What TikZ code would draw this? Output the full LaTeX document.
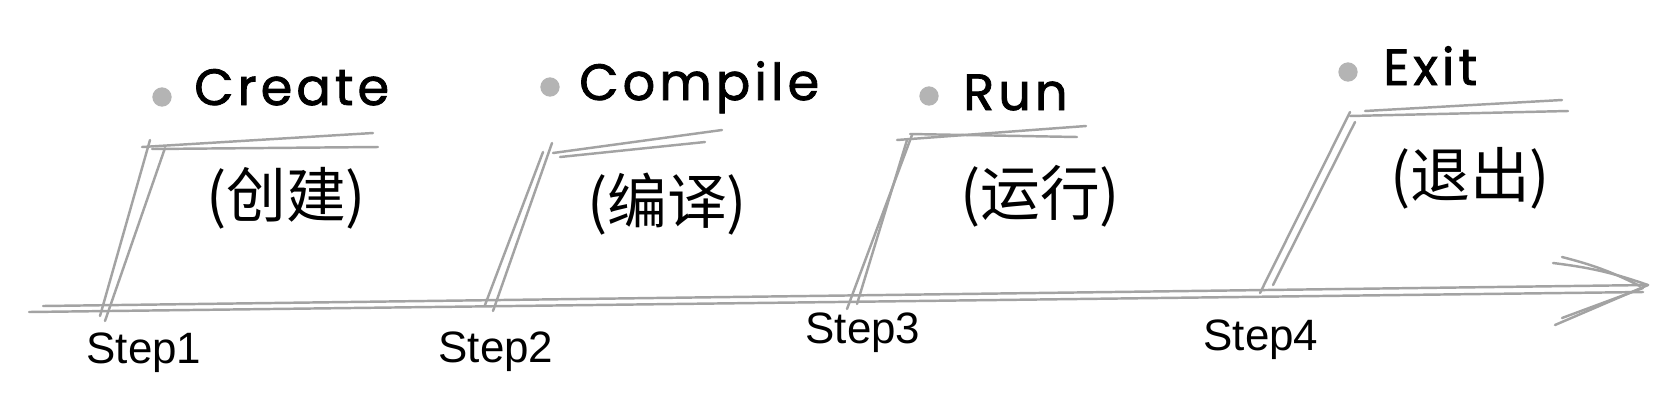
\documentclass[tikz,border=0pt]{standalone}
\usepackage{fontspec}
\setmainfont{Liberation Sans}
\newfontfamily\handfont{Poppins}[LetterSpace=8, FakeBold=1.6]
\newfontfamily\cjkfont{Noto Sans CJK SC}
\definecolor{pencil}{HTML}{A3A3A3}
\definecolor{dotgray}{HTML}{B4B4B4}

\begin{document}
\begin{tikzpicture}[x=0.02cm, y=-0.02cm, line width=1.4pt, line cap=round,
  stroke/.style={draw=pencil},
  title/.style={font=\handfont\fontsize{29}{34}\selectfont, anchor=base west, inner sep=0pt},
  zh/.style={font=\cjkfont\fontsize{34}{40}\selectfont, inner sep=0pt},
  steplabel/.style={font=\fontsize{25}{30}\selectfont, inner sep=0pt},
  bullet/.style={circle, fill=dotgray, minimum size=11pt, inner sep=0pt}]
  \useasboundingbox (0,0) rectangle (1680,410);

  % timeline with arrow
  \coordinate (t0) at (29,312);
  \coordinate (tip) at (1648,285);
  \draw[stroke] (t0) -- (1643,292);
  \draw[stroke] (43,306) -- (tip);
  \draw[stroke] (1553,263) to[bend left=6] (tip);
  \draw[stroke] (1562,257) to[bend left=6] (1640,286);
  \draw[stroke] (1555,325) -- (tip);
  \draw[stroke] (1562,318) -- (1643,288);

  % step 1
  \coordinate (b1) at (100,316);
  \coordinate (c1) at (150,140);
  \draw[stroke] (b1) -- (c1);
  \draw[stroke] (105,321) -- (165,148);
  \draw[stroke] (142,147) -- (373,133);
  \draw[stroke] (152,149) -- (378,147);
  \node[bullet] (d1) at (162,97) {};
  \node[title] (n1) at (193,105) {Create};
  \node[zh] (z1) at (286,198) {(创建)};
  \node[steplabel] (s1) at (144,353) {Step1};

  % step 2
  \coordinate (b2) at (485,305);
  \coordinate (c2) at (543,152);
  \draw[stroke] (b2) -- (c2);
  \draw[stroke] (493,311) -- (552,143);
  \draw[stroke] (553,153) -- (722,130);
  \draw[stroke] (560,157) -- (705,142);
  \node[bullet] (d2) at (550,87) {};
  \node[title] (n2) at (578,100) {Compile};
  \node[zh] (z2) at (667,204) {(编译)};
  \node[steplabel] (s2) at (496,352) {Step2};

  % step 3
  \coordinate (b3) at (847,309);
  \coordinate (c3) at (912,135);
  \draw[stroke] (b3) -- (c3);
  \draw[stroke] (857,304) -- (907,140);
  \draw[stroke] (897,140) -- (1086,126);
  \draw[stroke] (910,134) -- (1077,137);
  \node[bullet] (d3) at (929,96) {};
  \node[title] (n3) at (962,110) {Run};
  \node[zh] (z3) at (1040,196) {(运行)};
  \node[steplabel] (s3) at (863,333) {Step3};

  % step 4
  \coordinate (b4) at (1260,293);
  \coordinate (c4) at (1350,112);
  \draw[stroke] (b4) -- (c4);
  \draw[stroke] (1273,285) -- (1355,122);
  \draw[stroke] (1350,116) -- (1568,111);
  \draw[stroke] (1365,111) -- (1562,100);
  \node[bullet] (d4) at (1348,72) {};
  \node[title] (n4) at (1382,85) {Exit};
  \node[zh] (z4) at (1470,178) {(退出)};
  \node[steplabel] (s4) at (1261,340) {Step4};
\end{tikzpicture}
\end{document}
